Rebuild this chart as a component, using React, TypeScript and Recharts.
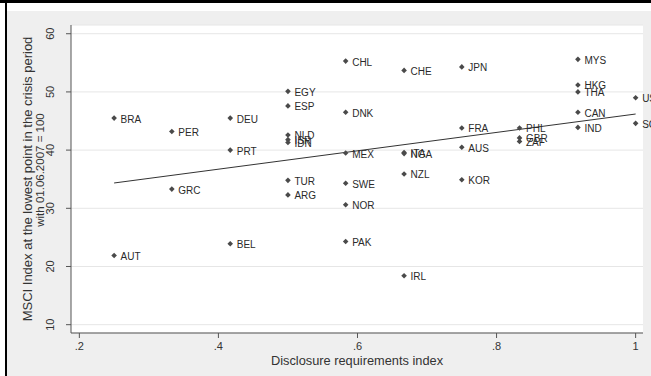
import { ScatterChart, Scatter, XAxis, YAxis, CartesianGrid, ReferenceLine, Label } from "recharts";

// country codes, disclosure index (x) and MSCI low point (y)
const countryCodes = [
  "BRA", "AUT",
  "PER", "GRC",
  "DEU", "PRT", "BEL",
  "EGY", "ESP", "NLD", "ISR", "IDN", "TUR", "ARG",
  "CHL", "DNK", "MEX", "SWE", "NOR", "PAK",
  "CHE", "ITA", "NGA", "NZL", "IRL",
  "JPN", "FRA", "AUS", "KOR",
  "PHL", "GBR", "ZAF",
  "MYS", "HKG", "THA", "CAN", "IND",
  "USA", "SGP",
];
const disclosureIndex = [
  0.25, 0.25,
  0.333, 0.333,
  0.417, 0.417, 0.417,
  0.5, 0.5, 0.5, 0.5, 0.5, 0.5, 0.5,
  0.583, 0.583, 0.583, 0.583, 0.583, 0.583,
  0.667, 0.667, 0.667, 0.667, 0.667,
  0.75, 0.75, 0.75, 0.75,
  0.833, 0.833, 0.833,
  0.917, 0.917, 0.917, 0.917, 0.917,
  1.0, 1.0,
];
const msciLowPoint = [
  45.5, 21.9,
  43.2, 33.3,
  45.5, 40.0, 23.9,
  50.1, 47.6, 42.6, 41.8, 41.3, 34.8, 32.3,
  55.3, 46.5, 39.5, 34.3, 30.6, 24.3,
  53.7, 39.6, 39.4, 35.9, 18.4,
  54.3, 43.8, 40.5, 34.9,
  43.8, 42.1, 41.5,
  55.6, 51.2, 50.0, 46.5, 43.9,
  49.0, 44.6,
];

// fitted line end points
const fitX = [0.25, 1.0];
const fitY = [34.35, 46.2];

const xTicks = [0.2, 0.4, 0.6, 0.8, 1];
const yTicks = [10, 20, 30, 40, 50, 60];

const points = countryCodes.map((code, i) => ({
  code,
  x: disclosureIndex[i],
  y: msciLowPoint[i],
}));

const FONT = "'Liberation Sans', Arial, sans-serif";
const AXIS = "#555555";

const fmtX = (v: number) => (v === 1 ? "1" : v.toFixed(1).replace(/^0/, ""));

const XTick = ({ x, y, payload }: any) => (
  <text x={x} y={y + 10} textAnchor="middle" fontSize={11} fontFamily={FONT} fill="#333">
    {fmtX(payload.value)}
  </text>
);

const YTick = ({ x, y, payload }: any) => (
  <text
    x={x - 10}
    y={y}
    textAnchor="middle"
    fontSize={11}
    fontFamily={FONT}
    fill="#333"
    transform={`rotate(-90, ${x - 10}, ${y})`}
  >
    {payload.value}
  </text>
);

const DiamondLabel = (props: any) => {
  const { cx, cy, payload } = props;
  const r = 2.8;
  return (
    <g>
      <path d={`M${cx},${cy - r}L${cx + r},${cy}L${cx},${cy + r}L${cx - r},${cy}Z`} fill="#4a4a4a" />
      <text x={cx + 6.5} y={cy + 4.5} fontSize={10} fontFamily={FONT} fill="#2a2a2a">
        {payload.code}
      </text>
    </g>
  );
};

const YTitle = (props: any) => {
  const vb = props.viewBox;
  const cy = vb.y + vb.height / 2;
  return (
    <g fontFamily={FONT} fill="#333" textAnchor="middle">
      <text x={31.5} y={cy} fontSize={13} transform={`rotate(-90, 31.5, ${cy})`}>
        MSCI Index at the lowest point in the crisis period
      </text>
      <text x={44} y={cy - 9} fontSize={11.5} transform={`rotate(-90, 44, ${cy - 9})`}>
        with 01.06.2007 = 100
      </text>
    </g>
  );
};

const XTitle = (props: any) => {
  const vb = props.viewBox;
  return (
    <text
      x={vb.x + vb.width / 2}
      y={vb.y + 31.5}
      textAnchor="middle"
      fontSize={12.8}
      fontFamily={FONT}
      fill="#333"
    >
      Disclosure requirements index
    </text>
  );
};

export default function App() {
  return (
    <div style={{ position: "absolute", left: 0, top: 0, width: 651, height: 376, background: "#fff", overflow: "hidden" }}>
      <div style={{ position: "absolute", left: 7, top: 11, right: 0, bottom: 0, background: "#efefef" }} />
      <div style={{ position: "absolute", left: 0, top: 0, width: 651, height: 3, background: "#000" }} />
      <div style={{ position: "absolute", left: 5, top: 0, width: 2, height: 376, background: "#000" }} />
      <div style={{ position: "absolute", left: 0, top: 0 }}>
        <ScatterChart width={651} height={376} margin={{ top: 25, right: 8, bottom: 13, left: 11 }}>
          <CartesianGrid vertical={false} stroke="#e6e6e6" fill="#ffffff" fillOpacity={1} />
          <XAxis
            type="number"
            dataKey="x"
            domain={[0.188, 1.0106]}
            ticks={xTicks}
            tick={<XTick />}
            tickSize={5}
            height={30}
            stroke={AXIS}
            tickLine={{ stroke: AXIS }}
          >
            <Label content={<XTitle />} />
          </XAxis>
          <YAxis
            type="number"
            dataKey="y"
            domain={[8.57, 61.5]}
            ticks={yTicks}
            tick={<YTick />}
            tickSize={5}
            width={60}
            stroke={AXIS}
            tickLine={{ stroke: AXIS }}
          >
            <Label content={<YTitle />} />
          </YAxis>
          <Scatter data={points} shape={<DiamondLabel />} isAnimationActive={false} />
          <ReferenceLine
            segment={[
              { x: fitX[0], y: fitY[0] },
              { x: fitX[1], y: fitY[1] },
            ]}
            stroke="#333"
            strokeWidth={1}
            ifOverflow="visible"
          />
        </ScatterChart>
      </div>
    </div>
  );
}
